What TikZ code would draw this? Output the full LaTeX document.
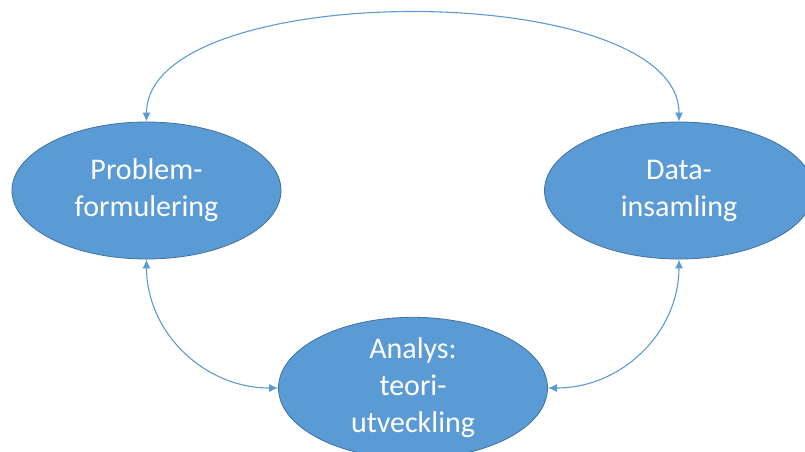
\documentclass[tikz,border=0pt]{standalone}
\usepackage{fontspec}
\setmainfont{Carlito}
\usetikzlibrary{shapes.geometric,arrows.meta}
\definecolor{officeblue}{HTML}{5B9BD5}
\definecolor{officeline}{HTML}{41719C}
\begin{document}
\begin{tikzpicture}[x=1pt,y=-1pt,
   phase/.style={ellipse,draw=officeline,line width=0.8pt,fill=officeblue,
      text=white,align=center,inner sep=0pt,
      minimum width=269pt,minimum height=137pt,
      font=\fontsize{30}{37}\selectfont},
   link/.style={officeblue,line width=1.1pt,
      {Latex[length=9pt,width=8pt]}-{Latex[length=9pt,width=8pt]}}]
\useasboundingbox (0,0) rectangle (805,451);
\node[phase] (prob) at (146.5,190.5) {Problem-\\formulering};
\node[phase] (data) at (679,190.5) {Data-\\insamling};
\node[phase] (analys) at (413,388) {Analys:\\teori-\\utveckling};
% cycle between the three phases
\draw[link] (prob.north) .. controls +(0,-144) and +(0,-144) .. (data.north);
\draw[link] (prob.south) .. controls +(0,72) and +(-75,0) .. (analys.west);
\draw[link] (data.south) .. controls +(0,72) and +(75,0) .. (analys.east);
\end{tikzpicture}
\end{document}
